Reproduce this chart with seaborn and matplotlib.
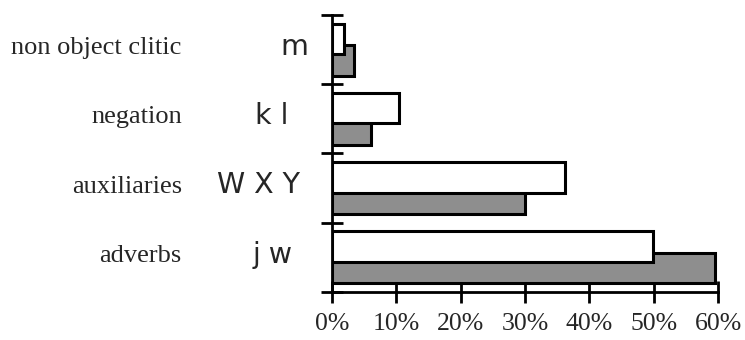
import numpy as np
import pandas as pd
import matplotlib
matplotlib.use("Agg")
import matplotlib.pyplot as plt
import seaborn as sns

categories = ["non object clitic", "negation", "auxiliaries", "adverbs"]
glyph_labels = ["m", "k l", "W X Y", "j w"]
white_values = [1.8, 10.4, 36.2, 49.9]
grey_values = [3.5, 6.0, 30.0, 59.6]
tick_values = [0, 10, 20, 30, 40, 50, 60]
tick_labels = ["0%", "10%", "20%", "30%", "40%", "50%", "60%"]

sns.set_theme(style="white")
plt.rcParams["font.family"] = ["Liberation Serif", "DejaVu Serif"]

fig = plt.figure(figsize=(7.45, 3.4), dpi=100)
ax = fig.add_axes([0.4456, 0.1412, 0.5182, 0.8147])

pos = np.arange(len(categories), dtype=float)
bar_h = 0.44
off = 0.155

df_grey = pd.DataFrame({"val": grey_values, "pos": pos + off})
df_white = pd.DataFrame({"val": white_values, "pos": pos - off})

sns.barplot(data=df_grey, x="val", y="pos", orient="y", native_scale=True,
            width=bar_h, color="#8e8e8e", edgecolor="black", linewidth=2.2,
            saturation=1, ax=ax, zorder=2)
sns.barplot(data=df_white, x="val", y="pos", orient="y", native_scale=True,
            width=bar_h, color="white", edgecolor="black", linewidth=2.2,
            saturation=1, ax=ax, zorder=3)

ax.set_xlim(0, 60)
ax.set_ylim(3.5, -0.5)
ax.set_xlabel("")
ax.set_ylabel("")

ax.set_xticks(tick_values)
ax.set_xticklabels(tick_labels, fontsize=18.5)
ax.set_yticks(np.arange(-0.5, len(categories), 1.0))
ax.set_yticklabels([])

for s in ["top", "right"]:
    ax.spines[s].set_visible(False)
for s in ["left", "bottom"]:
    ax.spines[s].set_color("black")
    ax.spines[s].set_linewidth(2)

ax.tick_params(axis="x", direction="inout", length=16, width=2, color="black",
               pad=7, bottom=True)
ax.tick_params(axis="y", direction="inout", length=16, width=2, color="black",
               left=True, labelleft=False)

ytr = ax.get_yaxis_transform()
for i, c in enumerate(categories):
    ax.text(-0.389, pos[i] - 0.02, c, transform=ytr, ha="right", va="center",
            fontsize=19, family=["Liberation Serif", "DejaVu Serif"])

glyph_x = [-0.062, -0.114, -0.083, -0.101]
for i, g in enumerate(glyph_labels):
    ax.text(glyph_x[i], pos[i] - 0.04, g, transform=ytr, ha="right", va="center",
            fontsize=20.5, family=["DejaVu Sans"])

fig.savefig("out.png", dpi=100)
